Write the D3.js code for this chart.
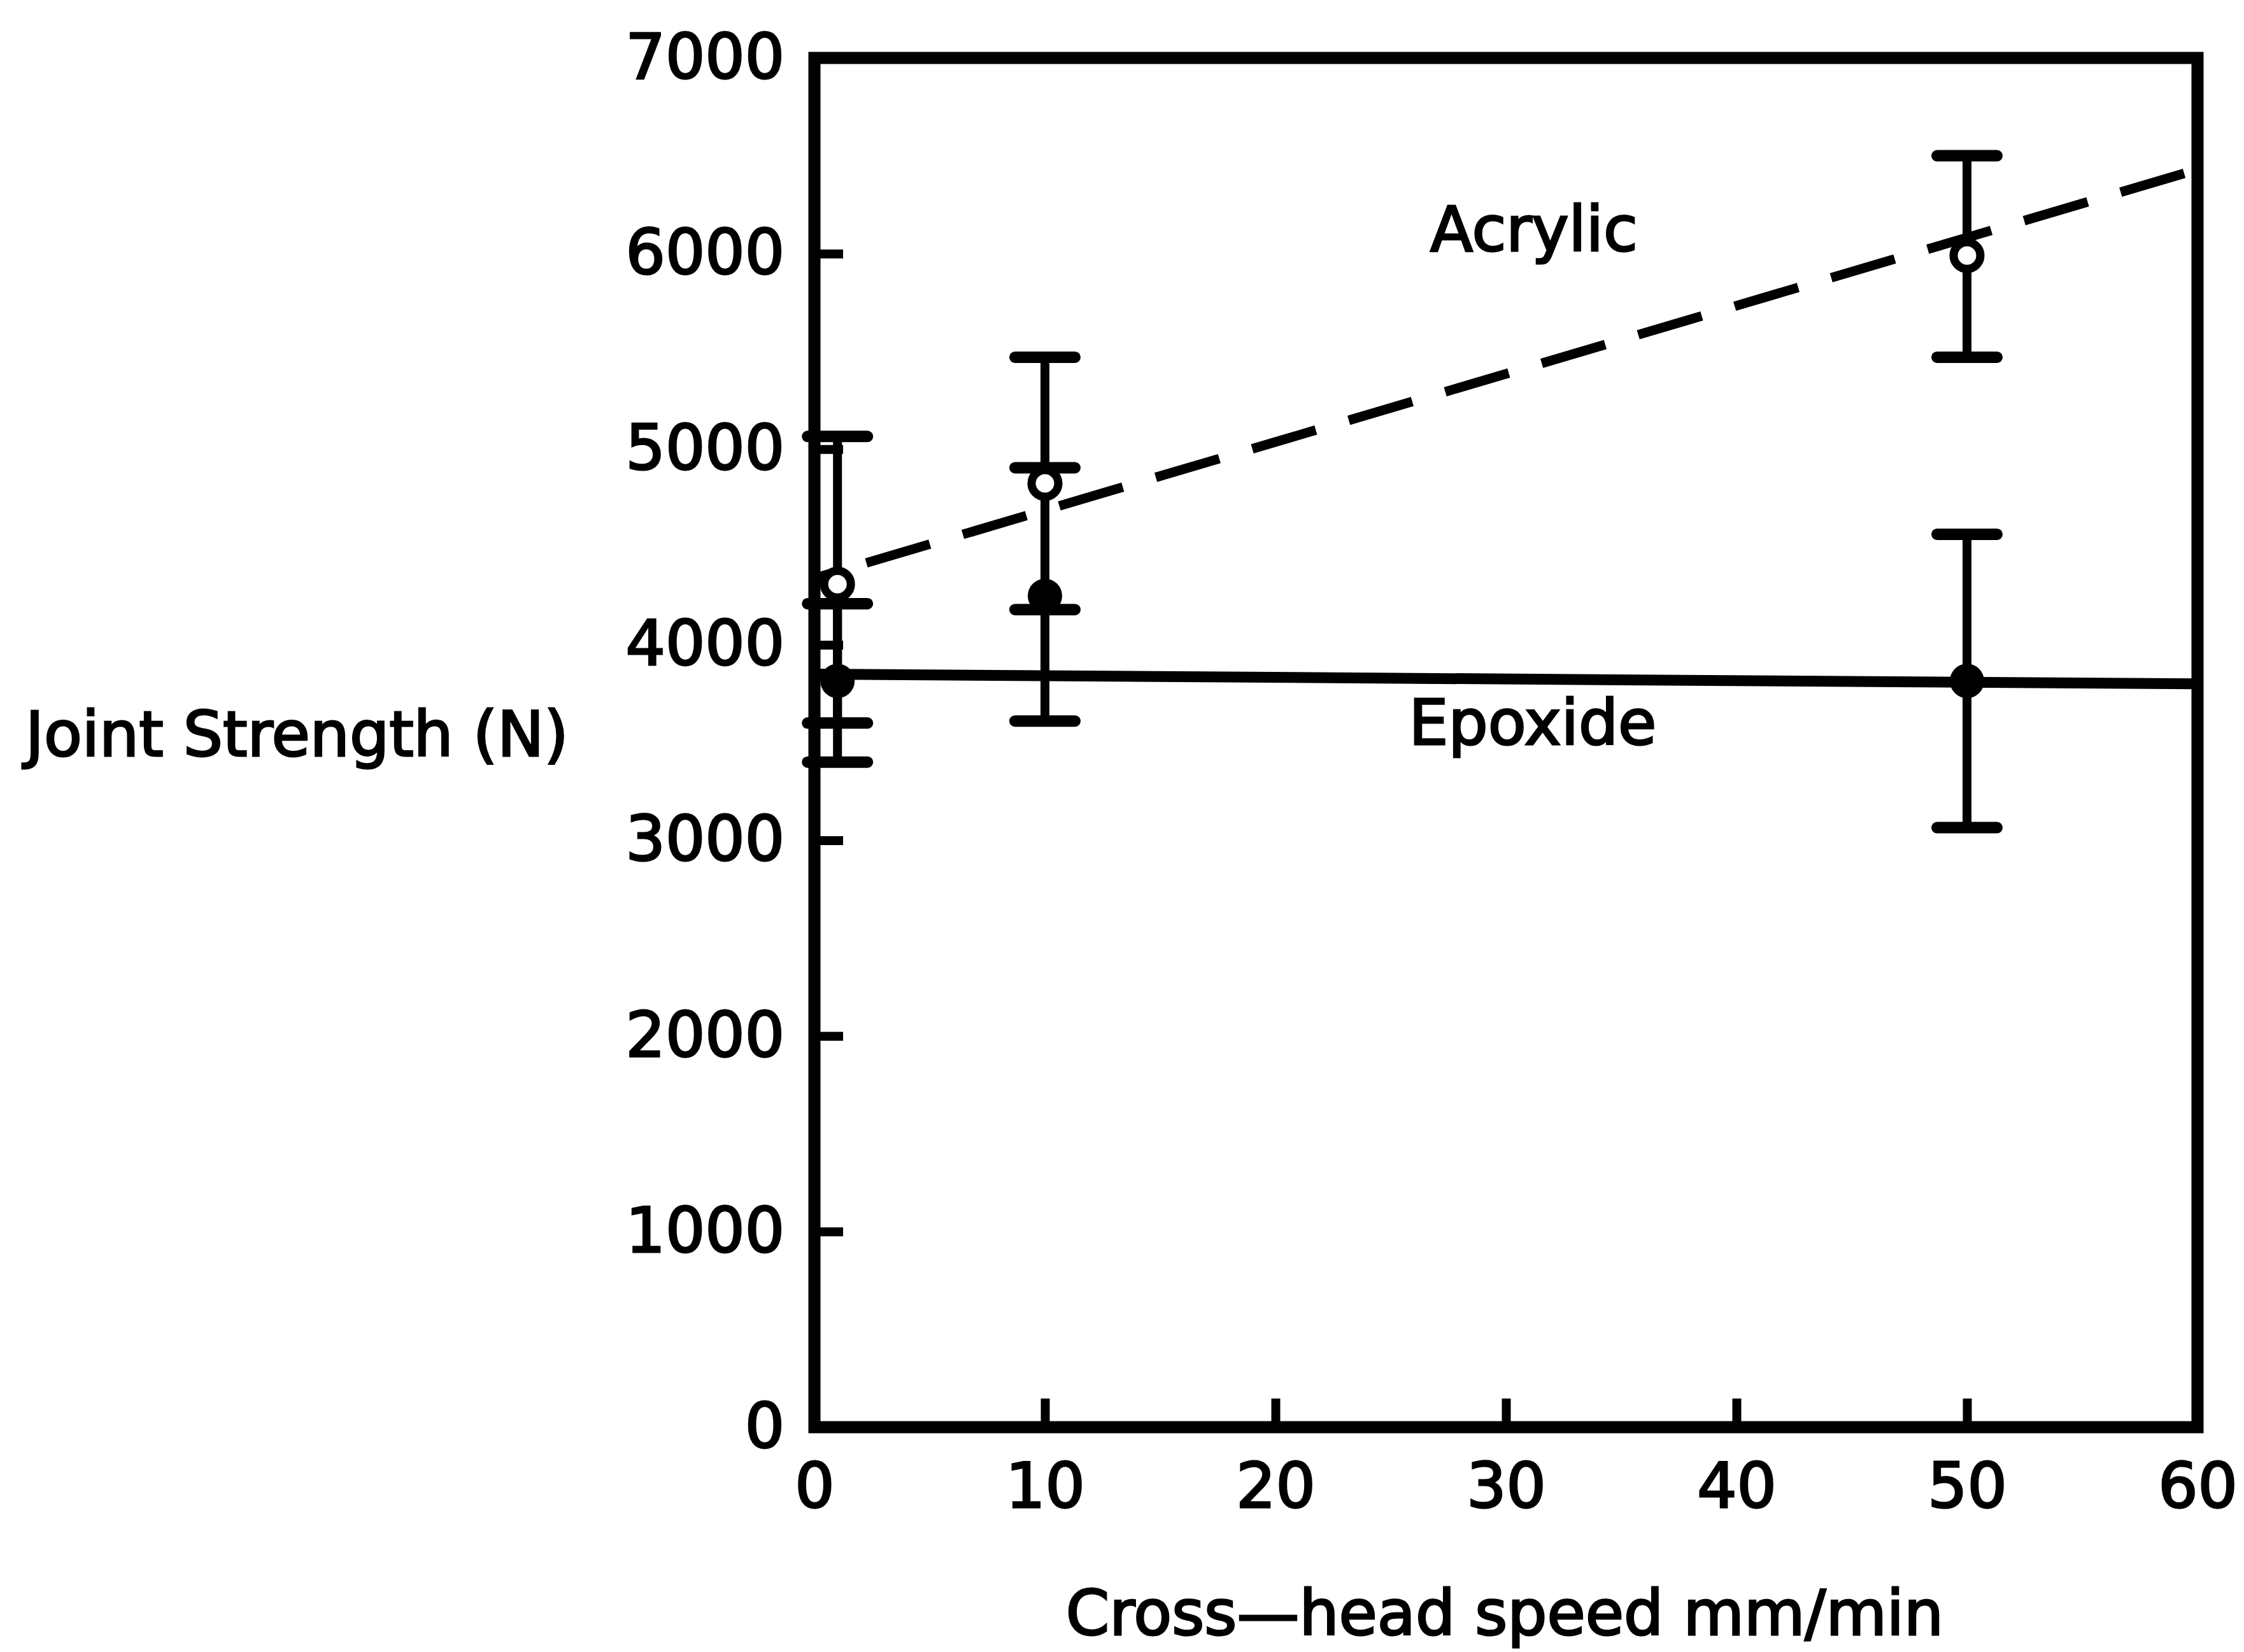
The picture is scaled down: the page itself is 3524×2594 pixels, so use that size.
<!DOCTYPE html>
<html>
<head>
<meta charset="utf-8">
<script src="https://cdn.jsdelivr.net/npm/d3@7"></script>
<style>
  html, body { margin: 0; padding: 0; background: #fff; }
  svg { display: block; }
  text { font-family: "DejaVu Sans", sans-serif; fill: #000; }
</style>
</head>
<body>
<svg id="chart" width="3524" height="2594"></svg>
<script>
// ---- data ----
const speeds = [1, 10, 50];                 // cross-head speed, mm/min
const acrylicMean = [4310, 4825, 5990];
const acrylicLow  = [3600, 4180, 5470];
const acrylicHigh = [5065, 5470, 6500];
const epoxideMean = [3815, 4250, 3815];
const epoxideLow  = [3400, 3610, 3065];
const epoxideHigh = [4210, 4905, 4565];
const acrylicFit = [[0, 4340], [60, 6430]]; // dashed trend line
const epoxideFit = [[0, 3850], [60, 3800]]; // solid trend line
const xTicks = [0, 10, 20, 30, 40, 50, 60];
const yTicks = [0, 1000, 2000, 3000, 4000, 5000, 6000, 7000];
const xTitle = "Cross\u2014head speed mm/min";
const yTitle = "Joint Strength (N)";
const seriesLabels = ["Acrylic", "Epoxide"];

// ---- chart ----
const svg = d3.select("#chart");
svg.append("rect").attr("width", 3524).attr("height", 2594).attr("fill", "#fff");

const x = d3.scaleLinear().domain([0, 60]).range([1279, 3451]);
const y = d3.scaleLinear().domain([0, 7000]).range([2241, 91]);
const FS = 98;
const TSW = 3; // text outline to mimic the heavy printed glyphs

// axes (ticks pointing inward)
const gy = svg.append("g").attr("transform", `translate(${x(0)},0)`)
  .call(d3.axisLeft(y).tickValues(yTicks).tickFormat(d => String(d))
        .tickSize(-45).tickSizeOuter(0).tickPadding(47));
const gx = svg.append("g").attr("transform", `translate(0,${y(0)})`)
  .call(d3.axisBottom(x).tickValues(xTicks).tickFormat(d => String(d))
        .tickSize(-45).tickSizeOuter(0).tickPadding(56));
[gx, gy].forEach(g => {
  g.select(".domain").remove();
  g.selectAll(".tick line").attr("stroke", "#000").attr("stroke-width", 14);
  g.selectAll(".tick text").attr("font-size", FS).attr("font-family", "DejaVu Sans")
    .attr("fill", "#000").attr("stroke", "#000").attr("stroke-width", TSW);
});

// frame
svg.append("rect")
  .attr("x", x(0)).attr("y", y(7000))
  .attr("width", x(60) - x(0)).attr("height", y(0) - y(7000))
  .attr("fill", "none").attr("stroke", "#000").attr("stroke-width", 19);

// trend lines
const line = d3.line().x(d => x(d[0])).y(d => y(d[1]));
svg.append("path").datum(epoxideFit).attr("d", line)
  .attr("fill", "none").attr("stroke", "#000").attr("stroke-width", 17);
svg.append("path").datum(acrylicFit).attr("d", line)
  .attr("fill", "none").attr("stroke", "#000").attr("stroke-width", 15)
  .attr("stroke-dasharray", "104,54").attr("stroke-dashoffset", 73);

// error bars
function errorBars(lo, hi) {
  const g = svg.append("g").attr("stroke", "#000");
  speeds.forEach((s, i) => {
    g.append("line").attr("x1", x(s)).attr("x2", x(s))
      .attr("y1", y(lo[i])).attr("y2", y(hi[i])).attr("stroke-width", 14);
    [lo[i], hi[i]].forEach(v => {
      g.append("line").attr("x1", x(s) - 47).attr("x2", x(s) + 47)
        .attr("y1", y(v)).attr("y2", y(v)).attr("stroke-width", 18)
        .attr("stroke-linecap", "round");
    });
  });
}
errorBars(acrylicLow, acrylicHigh);
errorBars(epoxideLow, epoxideHigh);

// markers
svg.append("g").selectAll("circle").data(speeds).join("circle")
  .attr("cx", d => x(d)).attr("cy", (d, i) => y(acrylicMean[i])).attr("r", 21)
  .attr("fill", "#fff").attr("stroke", "#000").attr("stroke-width", 13);
svg.append("g").selectAll("circle").data(speeds).join("circle")
  .attr("cx", d => x(d)).attr("cy", (d, i) => y(epoxideMean[i])).attr("r", 27)
  .attr("fill", "#000");

// series labels
const lab = (t, cx, cy) => svg.append("text").text(t)
  .attr("x", cx).attr("y", cy).attr("text-anchor", "middle")
  .attr("dominant-baseline", "central").attr("font-size", FS)
  .attr("stroke", "#000").attr("stroke-width", TSW);
lab(seriesLabels[0], 2409, 360);
lab(seriesLabels[1], 2407, 1135);

// axis titles
svg.append("text").text(yTitle).attr("x", 40).attr("y", 1153)
  .attr("dominant-baseline", "central").attr("font-size", FS)
  .attr("stroke", "#000").attr("stroke-width", TSW);
svg.append("text").text(xTitle).attr("x", 2363).attr("y", 2533)
  .attr("text-anchor", "middle").attr("dominant-baseline", "central")
  .attr("font-size", FS).attr("stroke", "#000").attr("stroke-width", TSW);
</script>
</body>
</html>
